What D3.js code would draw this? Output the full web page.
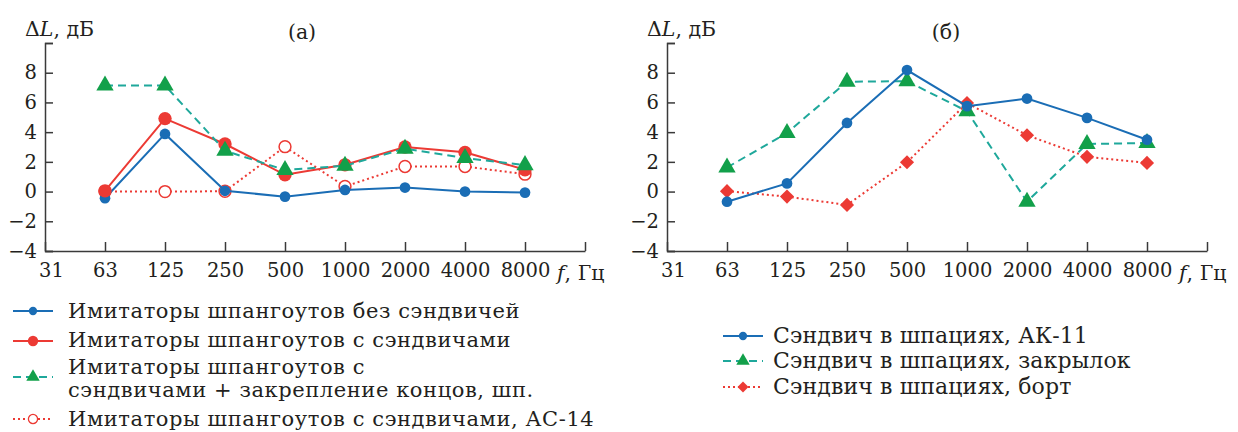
<!DOCTYPE html>
<html><head><meta charset="utf-8">
<script src="https://cdn.jsdelivr.net/npm/d3@7"></script>
<style>
body{margin:0;background:#fff;}
svg text{font-family:"DejaVu Serif","Liberation Serif","DejaVu Sans",serif;fill:#231f20;}
</style></head>
<body><svg id="c" width="1238" height="432"></svg>
<script>
const freqLabels = ["31","63","125","250","500","1000","2000","4000","8000"];
const yTicks = [-4,-2,0,2,4,6,8];

// panel (a)
const aNoSandwich   = [-0.45, 3.88, 0.05, -0.34, 0.11, 0.27, 0.0, -0.07];
const aSandwich     = [0.05, 4.91, 3.2, 1.13, 1.8, 3.0, 2.64, 1.47];
const aFixedEnds    = [7.14, 7.14, 2.75, 1.45, 1.74, 2.89, 2.26, 1.78];
const aAC14         = [0.0, 0.0, 0.02, 3.02, 0.34, 1.69, 1.69, 1.17];
// panel (б)
const bAK11         = [-0.68, 0.55, 4.62, 8.18, 5.75, 6.26, 4.96, 3.49];
const bFlap         = [1.62, 3.95, 7.39, 7.43, 5.41, -0.68, 3.2, 3.27];
const bBoard        = [0.03, -0.34, -0.9, 1.97, 5.96, 3.79, 2.34, 1.93];

const legendA = ["Имитаторы шпангоутов без сэндвичей","Имитаторы шпангоутов с сэндвичами",["Имитаторы шпангоутов с","сэндвичами + закрепление концов, шп."],"Имитаторы шпангоутов с сэндвичами, АС-14"];
const legendB = ["Сэндвич в шпациях, АК-11","Сэндвич в шпациях, закрылок","Сэндвич в шпациях, борт"];

const BLUE="#1a6db5", RED="#ec3a34", TEAL="#1fa89b", GREEN="#12a04a", AX="#3a3a3a";

const svg = d3.select("#c");
function width(str, fs){
  const t = svg.append("text").attr("font-size",fs).text(str);
  const w = t.node().getComputedTextLength(); t.remove();
  return w;
}
function fit(str, target, base){
  const w = width(str, base);
  return w>0 ? base*target/w : base;
}
const tickFS = 19.5, labelFS = 20.5;
const legFS = Math.min(21, fit(legendA[0], 452, 21));
const legFSb = Math.min(22, fit(legendB[0], 315, 22));
const lsA = Math.max(0,(452 - width(legendA[0], legFS)) / legendA[0].length);
const lsB = Math.max(0,(315 - width(legendB[0], legFSb)) / legendB[0].length);

const y = d3.scaleLinear().domain([-4,10]).range([251,43]);

function styleAxis(s){
  s.attr("font-family",null);
  s.select(".domain").attr("stroke",AX).attr("stroke-width",1.5);
  s.selectAll(".tick line").attr("stroke",AX).attr("stroke-width",1.5);
  s.selectAll("text").attr("font-size",tickFS).attr("fill","#231f20");
}

function panel(x0, title, titleX, series){
  const x = d3.scaleLinear().domain([0,9]).range([x0, x0+540]);
  const g = svg.append("g");
  const ya = d3.axisLeft(y).tickValues([...yTicks,10]).tickSize(-8).tickPadding(8)
    .tickFormat(d => d===10 ? "" : (d<0 ? "\u2212"+(-d) : d));
  g.append("g").attr("transform",`translate(${x0},0)`).call(ya).call(styleAxis);
  const xa = d3.axisBottom(x).tickValues(d3.range(10)).tickSize(-9).tickSizeOuter(0).tickPadding(12)
    .tickFormat(i => freqLabels[i] || "");
  g.append("g").attr("transform",`translate(0,${y(-4)})`).call(xa).call(styleAxis)
    .call(s=>s.selectAll(".tick").filter(d=>d===0).select("text").attr("dx",6));
  // axis labels
  const fl = g.append("text").attr("x",x(8)+32).attr("y",280).attr("font-size",labelFS);
  fl.append("tspan").attr("font-style","italic").text("f");
  fl.append("tspan").text(", Гц");
  const yl = g.append("text").attr("x",x0-20).attr("y",36).attr("font-size",labelFS);
  yl.append("tspan").text("Δ");
  yl.append("tspan").attr("font-style","italic").text("L");
  yl.append("tspan").text(", дБ");
  g.append("text").attr("x",titleX).attr("y",39).attr("font-size",labelFS).attr("text-anchor","middle").text(title);

  series.forEach(s=>{
    const line = d3.line().x((d,i)=>x(i+1)).y(d=>y(d));
    g.append("path").datum(s.values).attr("d",line).attr("fill","none")
      .attr("stroke",s.line).attr("stroke-width",s.width||2)
      .attr("stroke-dasharray",s.dash||null);
    g.selectAll(null).data(s.values).enter().append("path")
      .attr("transform",(d,i)=>`translate(${x(i+1)},${y(d)}) rotate(${s.rot||0})`)
      .attr("d",d3.symbol().type(s.sym).size(s.size))
      .attr("fill",s.fill).attr("stroke",s.stroke||"none").attr("stroke-width",1.5);
  });
  return x;
}

const serA = [
  {values:aAC14, line:RED, dash:"2,3", sym:d3.symbolCircle, size:110, fill:"#fff", stroke:RED},
  {values:aNoSandwich, line:BLUE, sym:d3.symbolCircle, size:90, fill:BLUE},
  {values:aSandwich, line:RED, sym:d3.symbolCircle, size:140, fill:RED},
  {values:aFixedEnds, line:TEAL, dash:"8,5", sym:d3.symbolTriangle, size:130, fill:GREEN},
];
const serB = [
  {values:bBoard, line:RED, dash:"2,3", sym:d3.symbolSquare, rot:45, size:100, fill:RED},
  {values:bFlap, line:TEAL, dash:"8,5", sym:d3.symbolTriangle, size:130, fill:GREEN},
  {values:bAK11, line:BLUE, sym:d3.symbolCircle, size:90, fill:BLUE},
];
panel(45, "(a)", 302, serA);
panel(667, "(б)", 946, serB);

function legendItem(x1, x2, tx, yy, s, labels, lineYs, fs, ls){
  svg.append("line").attr("x1",x1).attr("x2",x2).attr("y1",yy).attr("y2",yy)
    .attr("stroke",s.line).attr("stroke-width",2).attr("stroke-dasharray",s.dash||null);
  svg.append("path").attr("transform",`translate(${(x1+x2)/2},${yy}) rotate(${s.rot||0})`)
    .attr("d",d3.symbol().type(s.sym).size(s.size*0.6))
    .attr("fill",s.fill).attr("stroke",s.stroke||"none").attr("stroke-width",1.3);
  const lines = Array.isArray(labels)?labels:[labels];
  lines.forEach((t,k)=>{
    svg.append("text").attr("x",tx).attr("y",lineYs[k]).attr("font-size",fs)
      .attr("letter-spacing",ls).text(t);
  });
}
legendItem(13,53,68,311,serA[1],legendA[0],[318],legFS,lsA);
legendItem(13,53,68,341,serA[2],legendA[1],[347],legFS,lsA);
legendItem(13,53,68,377,serA[3],legendA[2],[374,397],legFS,lsA);
legendItem(13,53,68,419,serA[0],legendA[3],[426],legFS,lsA);

legendItem(723,763,773,336,serB[2],legendB[0],[343],legFSb,lsB);
legendItem(723,763,773,361,serB[1],legendB[1],[368],legFSb,lsB);
legendItem(723,763,773,387,serB[0],legendB[2],[394],legFSb,lsB);
</script></body></html>
